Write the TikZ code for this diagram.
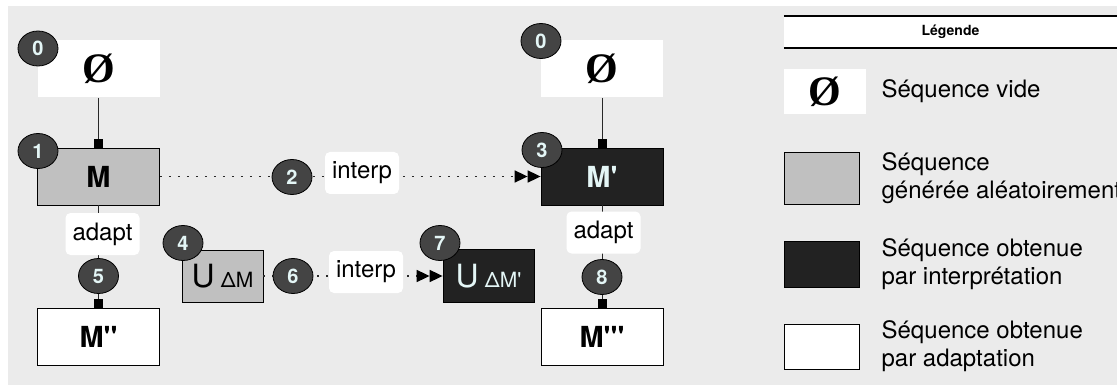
\documentclass[tikz,border=0pt]{standalone}
\usepackage{fontspec}
\setmainfont{TeX Gyre Heros}
\newfontfamily\seriffont{Liberation Serif}
\usetikzlibrary{arrows.meta,positioning,shapes.geometric}
\definecolor{bggray}{RGB}{235,235,235}
\definecolor{seqgray}{RGB}{192,192,192}
\definecolor{seqblack}{RGB}{34,34,34}
\definecolor{badgefill}{RGB}{68,68,68}
\definecolor{lighttext}{RGB}{228,246,246}
\definecolor{linkgray}{RGB}{40,40,40}
\newcommand{\fsz}[1]{\fontsize{#1}{#1}\selectfont}
\newcommand{\apos}{\textquotesingle}
\newcommand{\videsym}{{\seriffont\bfseries\fsz{42}Ø}}

\begin{document}
\begin{tikzpicture}[
  x=1pt, y=-1pt,
  every node/.style={font=\fsz{24}},
  seqbox/.style={minimum width=122pt, minimum height=57pt, inner sep=0pt, font=\bfseries\fsz{29}, line width=0.8pt},
  voidbox/.style={seqbox, fill=white},
  randbox/.style={seqbox, draw, fill=seqgray},
  interpbox/.style={seqbox, draw, fill=seqblack, text=lighttext},
  adaptbox/.style={seqbox, draw, fill=white},
  deltatext/.style={font=\fsz{32}},
  badge/.style={ellipse, draw=black, fill=badgefill, text=lighttext, line width=0.8pt, minimum width=40pt, minimum height=35pt, inner sep=0pt, font=\bfseries\fsz{20}},
  oplabel/.style={fill=white, rounded corners=5pt, minimum width=74pt, minimum height=42pt, inner sep=0pt},
  solidlink/.style={draw=linkgray, line width=1pt, -{Square[length=9pt,width=9pt,color=black]}},
  interplink/.style={draw=linkgray, line width=1.7pt, dash pattern=on 1.7pt off 7.3pt,
    -{Triangle[length=13pt,width=12pt,sep=0pt,color=black]Triangle[length=13pt,width=12pt,color=black]}},
  legtext/.style={align=left, inner sep=0pt, font=\fontsize{24}{28}\selectfont}
]
\useasboundingbox (0,0) rectangle (1117,385);
\fill[bggray] (8,6) rectangle (1117,385);

% sequences
\node[voidbox] (voidA) at (98.5,69) {\videsym};
\node[randbox] (M) at (98.5,176.5) {M};
\node[adaptbox] (Madapt) at (98.5,337) {M\apos\apos};
\node[voidbox] (voidB) at (602,69) {\videsym};
\node[interpbox] (Mi) at (602,176.5) {M\apos};
\node[adaptbox] (Miadapt) at (602,337) {M\apos\apos\apos};
\node[randbox, deltatext, minimum width=81pt, minimum height=52pt] (dM) at (222.5,276) {U\hspace{6pt}\fsz{21}ΔM};
\node[interpbox, deltatext, minimum width=91pt, minimum height=53pt] (dMi) at (488.5,276) {U\hspace{6pt}\fsz{21}ΔM\apos};

% connectors
\draw[solidlink] (voidA) -- (M);
\draw[solidlink] (voidB) -- (Mi);
\draw[solidlink] (M) -- (Madapt);
\draw[solidlink] (Mi) -- (Miadapt);
\draw[interplink] (M) -- (Mi);
\draw[interplink] (dM) -- (dMi);

% operations
\node[oplabel] (adaptA) at (102.5,234) {adapt};
\node[oplabel] (adaptB) at (603.5,232.5) {adapt};
\node[oplabel] (interpA) at (362,173) {interp};
\node[oplabel] (interpB) at (366,272) {interp};

% steps
\node[badge] (st0a) at (38,48.5) {0};
\node[badge] (st0b) at (541,41) {0};
\node[badge] (st1) at (38,151) {1};
\node[badge] (st2) at (292,177) {2};
\node[badge] (st3) at (542,150) {3};
\node[badge] (st4) at (183,243) {4};
\node[badge] (st5) at (98.5,276) {5};
\node[badge] (st6) at (293,276) {6};
\node[badge] (st7) at (440,243) {7};
\node[badge] (st8) at (602,277) {8};

% legend
\node[fill=white, minimum width=333pt, minimum height=32pt, inner sep=0pt, font=\bfseries\fsz{14}] (leghead) at (950.5,32) {Légende};
\draw[line width=1.5pt] (leghead.north west) -- (leghead.north east);
\draw[line width=1.5pt] (leghead.south west) -- (leghead.south east);
\node[voidbox, minimum width=82pt, minimum height=45pt] (legvoid) at (825,91.5) {\videsym};
\node[randbox, minimum width=75pt, minimum height=52pt] (legrand) at (821.5,178) {};
\node[interpbox, minimum width=75pt, minimum height=46pt] (leginterp) at (821.5,264) {};
\node[adaptbox, minimum width=75pt, minimum height=45pt] (legadapt) at (821.5,346.5) {};
\node[legtext, right=15pt of legvoid] (txtvoid) {Séquence vide};
\node[legtext, right=22pt of legrand] (txtrand) {Séquence\\générée aléatoirement};
\node[legtext, right=22pt of leginterp] (txtinterp) {Séquence obtenue\\par interprétation};
\node[legtext, right=22pt of legadapt] (txtadapt) {Séquence obtenue\\par adaptation};
\end{tikzpicture}
\end{document}
